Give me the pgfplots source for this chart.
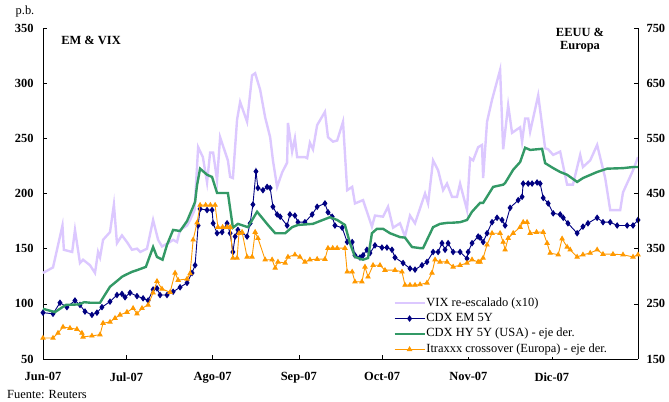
\documentclass[border=0pt]{standalone}
\usepackage{pgfplots}
\pgfplotsset{compat=1.18}
\usepackage{fontspec}
\setmainfont{Liberation Serif}
\definecolor{vix}{RGB}{220,200,255}
\definecolor{em}{RGB}{0,0,128}
\definecolor{hy}{RGB}{51,153,102}
\definecolor{itx}{RGB}{255,153,0}
\newcommand{\fs}{\fontsize{12.5}{15}\selectfont}
\begin{document}
\begin{tikzpicture}[x=1bp,y=1bp]
\path[use as bounding box] (0,0) rectangle (669,401);
\pgfplotsset{
  common/.style={
    at={(43bp,42bp)}, anchor=south west, scale only axis,
    width=595bp, height=331bp, xmin=0, xmax=214,
    axis line style={-, black, line width=0.8bp},
    tick align=inside, major tick length=4bp,
    tick style={black, line width=0.6bp},
    /pgf/number format/assume math mode=true,
    ticklabel style={font=\fs\bfseries},
    clip=false,
  }
}
\begin{axis}[common,
  ymin=50, ymax=350, ytick={50,100,...,350},
  axis x line*=bottom, axis y line*=left,
  xtick pos=bottom, ytick pos=left,
  xtick={0,30,61,92,122,153,183},
  xticklabels={Jun-07,Jul-07,Ago-07,Sep-07,Oct-07,Nov-07,Dic-07},
  xticklabel style={yshift=-10bp},
  yticklabel style={xshift=-6bp},
]
\addplot[vix, line width=2.4bp] table {
0 128
3.6 133
7 171
7.5 149
10.5 147
11.5 167
13.3 137
14.4 140
16.9 135
18.7 128
19.8 147
20.5 142
21.6 158
24.1 165
25.5 190
26.6 155
28.4 162
30.2 156
32 149
33.8 150
35 147
37.4 150
39.6 176
41.4 158
42.8 152
45 155
46.8 158
48.2 156
49.3 167
51.8 171
52.9 176
54.5 185
55.8 242
57.5 233
59 210
60.1 237
61.2 237
62.6 212
63.7 251
66.5 230
67.3 215
68.3 214
69.8 267
70.9 283
73.4 265
75.2 307
76.3 309
78.1 294
79.9 269
81.7 251
82.7 230
84.2 206
86 219
87.8 228
88.1 264
89.6 238
90.6 250
91.4 233
94.2 233
95 232
96 246
97.1 240
98.6 262
101.4 274
102.5 251
104.3 247
105.8 248
107.9 265
109.4 203
111.2 206
112.2 191
115.1 194
118.3 170
119.4 180
122.3 179
124.1 188
125.9 169
128.4 173
130.2 161
132 180
133.8 173
137.4 200
138.5 191
140.3 230
142.1 221
143.9 203
145.3 209
147.1 197
148.9 197
150 209
152.5 185
153.6 232
154.7 230
156.5 242
157.9 244
158.3 214
159.7 265
161.5 285
164.4 312
165.5 240
167.3 280
168.7 255
171.6 260
172.3 247
173.4 268
174.5 268
175.2 256
178.1 289
180.6 241
181.7 240
183.5 235
186 238
188.5 208
190.6 208
193.2 235
194.2 224
196.8 230
199.3 244
202.2 214
204 185
207.6 185
208.6 201
212.2 221
214 233
};
\addplot[em, line width=0.9bp, mark=diamond*, mark size=2.6bp, mark options={solid}] table {
0 92
3.6 91
6.1 101
8.6 97
11.5 103
13.3 99
15.1 93
17.6 90
19.4 92
21.2 97
24.1 102
26.6 108
28.4 109
29.5 106
31.3 110
33.8 107
36 105
37.8 103
39.6 113
41 114
42.1 108
44.6 108
46.8 111
49.3 115
51.8 119
53.6 128
54.7 135
55.8 171
56.5 186
59 185
60.8 185
61.2 173
62.6 164
64.4 165
66.2 173
67.3 164
68.3 147
69.1 161
70.1 167
73.4 161
74.5 173
75.5 190
76.6 220
77.3 205
79.1 203
80.6 206
81.7 205
82.7 188
84.2 181
85.3 179
87.8 171
88.8 181
90.6 180
91.7 174
94.2 174
96.8 181
98.6 188
101.4 191
102.5 183
104 179
105 171
107.6 169
109.4 156
111.2 156
112.2 144
114 142
115.1 144
116.5 149
117.6 146
119.4 153
121.9 151
123.7 151
125.5 149
126.6 142
129.5 137
132 132
133.8 131
136.3 135
138.1 138
140.3 147
142.1 147
143.5 155
144.6 149
145.7 155
147.5 147
150 147
152.5 141
152.9 147
154.3 155
156.5 161
157.2 160
158.3 156
159.7 164
161.5 174
163.3 178
165.1 176
166.2 171
168 187
170.9 194
172.3 197
172.7 209
174.5 209
175.9 209
177.7 210
178.8 209
179.9 196
181.7 191
183.5 182
186 181
187.1 178
188.8 173
192.1 164
194.2 170
196 173
199.3 178
201.4 174
204 174
206.5 171
210.1 171
212.2 171
214 176
};
\end{axis}
\begin{axis}[common,
  ymin=150, ymax=750, ytick={150,250,...,750},
  axis x line=none, axis y line*=right,
  ytick pos=right, yticklabel pos=right,
  yticklabel style={xshift=5bp},
  legend cell align=left,
  legend image code/.code={\draw[mark repeat=2,mark phase=2,#1] plot coordinates {(0bp,0bp) (15bp,0bp) (30bp,0bp)};},
  legend style={at={(0.586,0.004)}, anchor=south west, draw=none, fill=white,
    font=\fs, inner sep=1.5bp, row sep=2.2bp,
    nodes={inner sep=0.6bp, text height=9bp, text depth=3bp}},
]
\addlegendimage{vix, line width=2.4bp}
\addlegendentry{VIX re-escalado (x10)}
\addlegendimage{em, line width=0.9bp, mark=diamond*, mark size=2.6bp}
\addlegendentry{CDX EM 5Y}
\addplot[hy, line width=2.4bp] table {
0 241
4.3 235
8.2 248
13 249
14.8 253
17 252
20.5 252
21.6 261
24.1 281
27 293
28.4 299
29.5 302
32 308
33.8 311
37 317
39.6 353
41 335
43 330
44.6 357
46.8 384
49.3 382
51.8 400
54 426
54.7 435
55.4 465
56.5 495
59 484
60.8 480
62.6 451
64.4 451
66.5 451
68.3 388
70.1 395
73.7 389
77 417
80.9 393
83.5 378
87.1 378
89.6 389
91.7 393
97.1 395
99.6 400
103.2 407
105.8 402
108.6 393
110.4 360
112.2 335
115.1 330
116.9 333
118.3 378
120.1 386
122.3 386
124.8 378
128.4 371
130.2 370
132.7 353
135.6 351
136.7 351
140.3 389
142.8 395
145.7 397
147.1 397
150 398
152.5 402
154.3 417
157.2 433
158.3 433
161.9 462
165.5 466
166.2 469
169.1 493
171.6 507
173.4 533
175.2 529
179.5 531
180.6 505
183.5 496
186 489
188.5 484
192.1 471
194.2 478
199.3 489
202.9 495
208.6 496
212.2 498
214 498
};
\addlegendentry{CDX HY 5Y (USA) - eje der.}
\addplot[itx, line width=0.9bp, mark=triangle*, mark size=2.4bp, mark options={solid}] table {
0 188
3.6 188
5.4 197
7.2 208
9.7 206
12.2 204
14 197
14.4 190
17.6 192
20.5 194
21.6 215
24.1 217
25.9 224
27.7 230
30.2 235
32.4 242
33.8 232
35.6 242
37.8 248
39.6 270
41 291
42.8 277
45.7 271
47.5 306
48.6 293
51.8 295
52.9 305
54 366
55.4 397
56.5 429
58.5 429
60.2 429
61.9 429
62.9 389
64.6 389
66.2 389
67.3 389
68.3 333
69.8 333
70.5 378
71.6 380
73.4 335
75.2 335
76.3 380
77.3 369
79.9 330
82.4 330
83.5 315
84.5 326
87.1 324
88.1 335
90.6 339
92.4 335
94.2 326
96 330
98.6 331
101.4 331
102.5 351
104.2 351
105.8 351
108.6 351
109.4 308
111.2 308
112.2 290
114.7 290
115.8 317
116.9 299
118.7 320
121.2 320
123 311
126.6 311
129.1 308
130.2 284
132 284
133.8 284
135.6 285
138.1 288
139.9 306
141 330
142.8 326
145.3 326
147.5 317
150 320
152.5 324
154.3 330
156.5 326
157.2 326
158.3 333
159.7 357
161.5 378
164.4 378
165.5 362
166.2 348
167.3 369
169.1 378
171.6 389
172.7 398
174.1 398
175.2 378
177.5 380
179.9 380
181.3 360
182.4 342
185.3 339
186.7 368
188.5 353
189.6 348
192.1 335
194.2 339
196.8 342
199.3 348
201.4 340
205 340
208.6 339
212.2 335
214 339
};
\addlegendentry{Itraxxx crossover (Europa) - eje der.}
\end{axis}
\node[font=\fs] at (25,389) {p.b.};
\node[font=\fs\bfseries] at (91,361) {EM \& VIX};
\node[font=\fs\bfseries, align=center, inner sep=0pt] at (580,361) {EEUU \&\\[-1.5bp]Europa};
\node[font=\fs, anchor=west, inner sep=0pt] at (7,6) {Fuente: Reuters};
\end{tikzpicture}
\end{document}
